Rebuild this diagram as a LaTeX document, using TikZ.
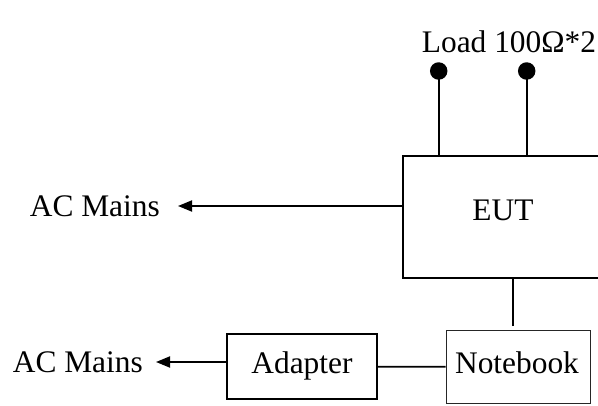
\documentclass[tikz,border=0pt]{standalone}
\usepackage{fontspec}
\setmainfont{Liberation Serif}
\usetikzlibrary{arrows.meta}
\begin{document}
\begin{tikzpicture}[x=1pt,y=-1pt,
  txt/.style={font=\fontsize{31.4}{36}\selectfont, inner sep=0pt},
  boxthick/.style={draw, line width=2pt, inner sep=0pt},
  boxthin/.style={draw, line width=0.9pt, inner sep=0pt},
  wire/.style={line width=1.8pt},
  arr/.style={line width=1.8pt, -{Triangle[length=14pt,width=11pt]}},
  dotnode/.style={circle, fill=black, minimum size=17.5pt, inner sep=0pt}]
\useasboundingbox (0,0) rectangle (598,405);
\clip (0,0) rectangle (598,405);
% EUT
\node[boxthick, minimum width=199.7pt, minimum height=122.3pt] (eut) at (503.2,216.9) {};
\node[txt] (euttxt) at (503,210) {EUT};
% Load
\node[txt] (load) at (509,42) {Load 100Ω*2};
\node[dotnode] (d1) at (438.7,71) {};
\node[dotnode] (d2) at (526.7,71) {};
\draw[wire] (d1.center) -- (d1.center |- eut.north);
\draw[wire] (d2.center) -- (d2.center |- eut.north);
% AC Mains 1
\node[txt, anchor=east] (ac1) at (160,206) {AC Mains};
\draw[arr, shorten >=18pt] (eut.west |- ac1.east) -- (ac1.east);
% Notebook
\node[boxthin, minimum width=144pt, minimum height=72.3pt, draw=black!85] (nb) at (518,366.8) {};
\node[txt] (nbtxt) at (517,363) {Notebook};
\draw[wire] (nb.north -| 513,0) ++(0,-4) -- (513,278);
% Adapter
\node[boxthick, minimum width=149.7pt, minimum height=64.7pt] (ad) at (302.2,366.7) {};
\node[txt] (adtxt) at (302,366) {Adapter};
\draw[wire] (ad.east) -- (nb.west);
% AC Mains 2
\node[txt, anchor=east] (ac2) at (143,362) {AC Mains};
\draw[arr, shorten >=13pt] (ad.west |- ac2.east) -- (ac2.east);
\end{tikzpicture}
\end{document}
